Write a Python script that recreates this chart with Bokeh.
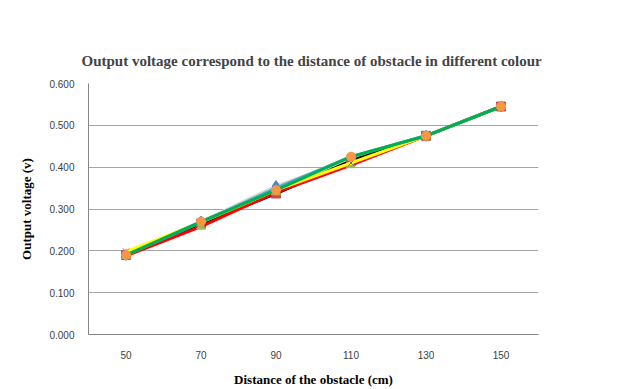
from bokeh.plotting import figure
from bokeh.models import Legend, LegendItem, BoxAnnotation, FactorRange, NumeralTickFormatter
from bokeh.embed import file_html
from bokeh.resources import INLINE

distances = ["50", "70", "90", "110", "130", "150"]
white = [0.190, 0.270, 0.355, 0.420, 0.475, 0.545]
black = [0.190, 0.265, 0.337, 0.415, 0.475, 0.545]
red = [0.188, 0.258, 0.340, 0.405, 0.475, 0.545]
yellow = [0.198, 0.268, 0.345, 0.410, 0.475, 0.545]
blue = [0.190, 0.268, 0.350, 0.425, 0.475, 0.545]
green = [0.190, 0.270, 0.345, 0.425, 0.475, 0.545]
y_ticks = [0.0, 0.1, 0.2, 0.3, 0.4, 0.5, 0.6]

series = [
    ("White", white, "#d9d9d9", "diamond", "#4F81BD", 11),
    ("Black", black, "#000000", "square", "#C0504D", 9),
    ("Red", red, "#ff0000", "triangle", "#9BBB59", 9),
    ("Yellow", yellow, "#ffff00", "x", "#8064A2", 9),
    ("Blue", blue, "#4BACC6", "asterisk", "#4BACC6", 9),
    ("Green", green, "#00B050", "circle", "#F79646", 9),
]

p = figure(width=626, height=389, x_range=FactorRange(*distances), y_range=(0, 0.6),
           output_backend="svg", toolbar_location=None,
           min_border_left=88, min_border_right=88, min_border_top=83, min_border_bottom=55)
p.outline_line_color = None
p.background_fill_color = "white"
p.border_fill_color = "white"

p.title.text = "Output voltage correspond  to the distance of obstacle in different colour"
p.title.text_font = "Liberation Serif"
p.title.text_font_size = "15px"
p.title.text_font_style = "bold"
p.title.align = "center"
p.title.standoff = 30

p.yaxis.ticker = y_ticks
p.yaxis.formatter = NumeralTickFormatter(format="0.000")
for ax in (p.xaxis, p.yaxis):
    ax.axis_line_color = "#868686"
    ax.major_tick_line_color = None
    ax.minor_tick_line_color = None
    ax.major_label_text_font = "Liberation Sans"
    ax.major_label_text_font_size = "10px"
    ax.major_label_text_color = "#404040"
    ax.axis_label_text_font = "Liberation Serif"
    ax.axis_label_text_font_size = "13px"
    ax.axis_label_text_font_style = "bold"
    ax.axis_label_text_color = "black"
p.yaxis.major_label_standoff = 8
p.xaxis.major_label_standoff = 10
p.yaxis.axis_label = "Output voltage (v)"
p.xaxis.axis_label = "Distance of the obstacle (cm)"
p.yaxis.axis_label_standoff = 12
p.xaxis.axis_label_standoff = 10

p.xgrid.grid_line_color = None
p.ygrid.grid_line_color = "#a6a6a6"

items = []
for name, vals, lc, marker, mc, ms in series:
    r1 = p.line(distances, vals, line_color=lc, line_width=3)
    if marker in ("x", "asterisk"):
        r2 = p.scatter(distances, vals, marker=marker, size=ms, line_color=mc,
                       fill_color=mc, line_width=1)
    else:
        r2 = p.scatter(distances, vals, marker=marker, size=ms, line_color=mc,
                       fill_color=mc)
    items.append(LegendItem(label=name, renderers=[r1, r2]))

legend = Legend(items=items, location=(465, 82), orientation="vertical",
                label_text_font="Liberation Sans", label_text_font_size="10px",
                label_text_color="#000000", glyph_width=26, glyph_height=14,
                spacing=5, padding=0, margin=0, label_standoff=2,
                border_line_color=None, background_fill_alpha=0)
p.add_layout(legend, "center")

border = BoxAnnotation(left=11, right=640, top=3, bottom=400,
                       left_units="canvas", right_units="canvas",
                       top_units="canvas", bottom_units="canvas",
                       fill_alpha=0, line_color="#d0d0d0", line_width=2)
p.add_layout(border)

open("out.html", "w").write(file_html(p, INLINE))
